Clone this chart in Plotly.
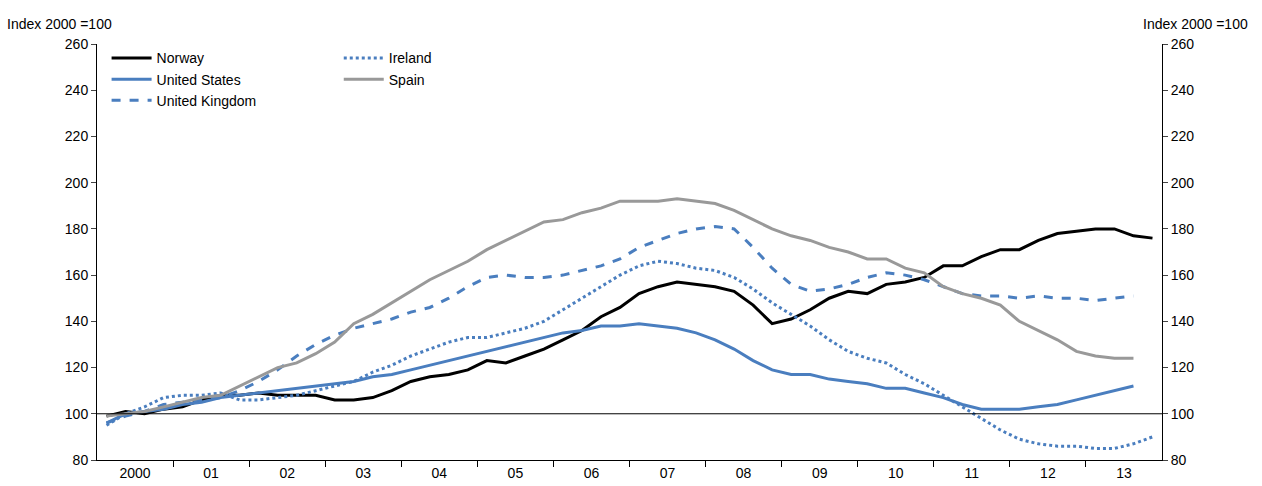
import plotly.graph_objects as go

years = list(range(2000, 2014))
norway = [99,101,100,102,103,106,108,108,109,108,108,108,106,106,107,110,114,116,117,119,123,122,125,128,132,136,142,146,152,155,157,156,155,153,147,139,141,145,150,153,152,156,157,159,164,164,168,171,171,175,178,179,180,180,177,176]
us = [96,100,101,102,104,105,107,108,109,110,111,112,113,114,116,117,119,121,123,125,127,129,131,133,135,136,138,138,139,138,137,135,132,128,123,119,117,117,115,114,113,111,111,109,107,104,102,102,102,103,104,106,108,110,112]
uk = [96,99,101,104,105,106,107,110,114,119,125,130,134,137,139,141,144,146,150,155,159,160,159,159,160,162,164,167,172,175,178,180,181,180,172,163,156,153,154,156,159,161,160,158,155,152,151,151,150,151,150,150,149,150,151]
ireland = [95,100,103,107,108,108,109,106,106,107,108,110,112,114,118,121,125,128,131,133,133,135,137,140,145,150,155,160,164,166,165,163,162,159,154,148,143,138,132,127,124,122,117,113,108,103,98,93,89,87,86,86,85,85,87,90]
spain = [99,100,101,103,105,107,108,112,116,120,122,126,131,139,143,148,153,158,162,166,171,175,179,183,184,187,189,192,192,192,193,192,191,188,184,180,177,175,172,170,167,167,163,161,155,152,150,147,140,136,132,127,125,124,124]
tick_labels = ["2000","01","02","03","04","05","06","07","08","09","10","11","12","13"]

def xs(n):
    return [2000 + (i + 0.5) / 4 for i in range(n)]

fig = go.Figure()
fig.add_trace(go.Scatter(x=xs(len(norway)), y=norway, name="Norway", mode="lines", line=dict(color="black", width=3), legend="legend"))
fig.add_trace(go.Scatter(x=xs(len(us)), y=us, name="United States", mode="lines", line=dict(color="#4a7ebf", width=3), legend="legend"))
fig.add_trace(go.Scatter(x=xs(len(uk)), y=uk, name="United Kingdom", mode="lines", line=dict(color="#4a7ebf", width=3, dash="dash"), legend="legend"))
fig.add_trace(go.Scatter(x=xs(len(ireland)), y=ireland, name="Ireland", mode="lines", line=dict(color="#4a7ebf", width=3, dash="dot"), legend="legend2"))
fig.add_trace(go.Scatter(x=xs(len(spain)), y=spain, name="Spain", mode="lines", line=dict(color="#999999", width=3), legend="legend2"))
fig.add_trace(go.Scatter(x=[2000], y=[None], yaxis="y2", showlegend=False, hoverinfo="skip"))

fig.add_hline(y=100, line=dict(color="black", width=1))

yax = dict(range=[80, 260], dtick=20, showgrid=False, zeroline=False, ticks="outside", ticklen=5,
           showline=True, linecolor="black", linewidth=1, tickfont=dict(size=14, color="black"), automargin=False)
fig.update_layout(
    width=1262, height=486, plot_bgcolor="white", paper_bgcolor="white",
    font=dict(family="Liberation Sans, Arial", size=14, color="black"),
    margin=dict(l=97, r=100, t=44, b=26, autoexpand=False),
    xaxis=dict(range=[2000, 2014], tickvals=[y + 0.5 for y in years], ticktext=tick_labels, ticks="",
               showgrid=False, zeroline=False, showline=True, linecolor="black", automargin=False,
               minor=dict(tickvals=list(range(2001, 2014)), ticks="outside", ticklen=6, tickcolor="black"),
               tickfont=dict(size=14)),
    yaxis=yax,
    yaxis2=dict(yax, overlaying="y", side="right"),
    legend=dict(x=0.009, y=1.004, xanchor="left", yanchor="top", bgcolor="rgba(0,0,0,0)", tracegroupgap=0,
                font=dict(size=14), itemwidth=40),
    legend2=dict(x=0.227, y=1.004, xanchor="left", yanchor="top", bgcolor="rgba(0,0,0,0)",
                 font=dict(size=14), itemwidth=40),
    showlegend=True,
    annotations=[
        dict(text="Index 2000 =100", x=0, y=1, xref="paper", yref="paper", xanchor="left", yanchor="bottom", xshift=-92, yshift=10, showarrow=False, font=dict(size=14)),
        dict(text="Index 2000 =100", x=1, y=1, xref="paper", yref="paper", xanchor="right", yanchor="bottom", xshift=88, yshift=10, showarrow=False, font=dict(size=14)),
    ],
)
fig.write_html("out.html", config={"displayModeBar": False})
with open("out.html", encoding="utf-8") as f:
    html = f.read()
html = html.replace("<body>", '<body style="margin:0">', 1)
with open("out.html", "w", encoding="utf-8") as f:
    f.write(html)
